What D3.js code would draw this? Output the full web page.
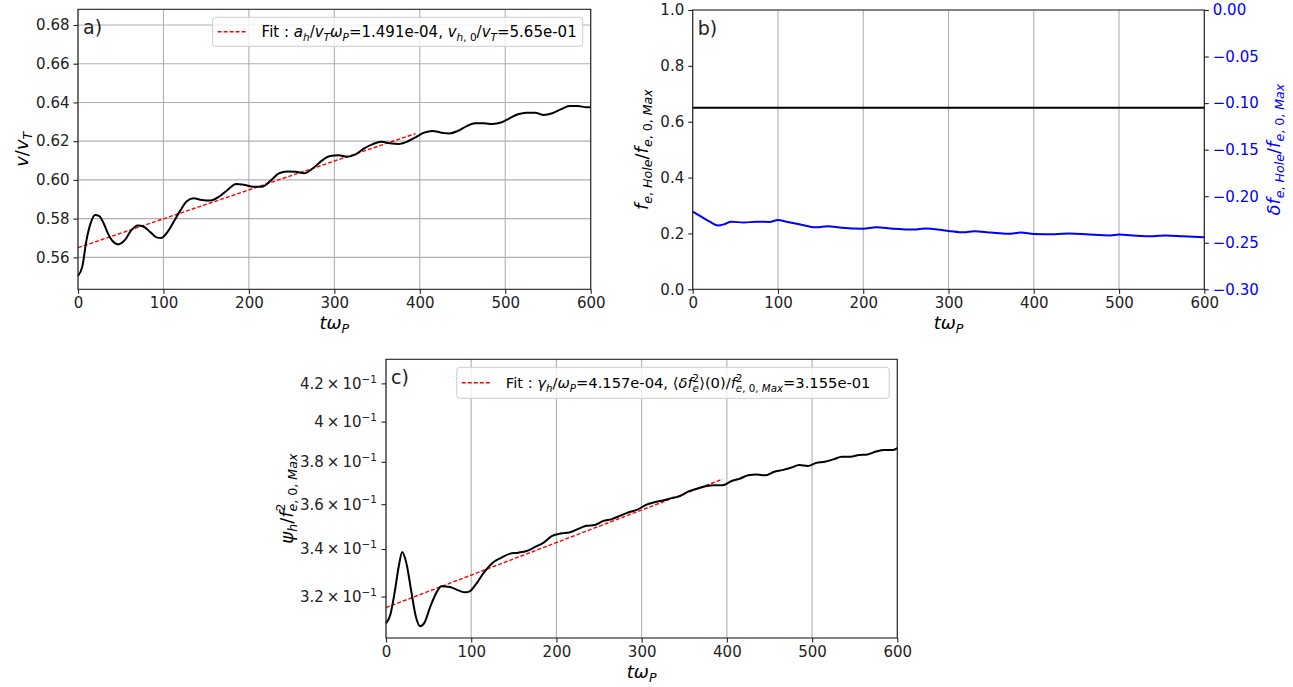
<!DOCTYPE html>
<html>
<head>
<meta charset="utf-8">
<script src="https://cdn.jsdelivr.net/npm/d3@7"></script>
<style>
  body { margin: 0; background: #fff; }
  svg text { font-family: "DejaVu Sans", sans-serif; }
</style>
</head>
<body>
<div id="chart"></div>
<script>
// ---- data ----
var xTicks = [0, 100, 200, 300, 400, 500, 600];

// a) hole velocity
var tA = [0, 5, 10, 15, 20, 25, 30, 35, 40, 47, 55, 62, 70, 77, 85, 92, 97, 105, 112, 120, 127, 135, 145, 155, 165, 175, 185, 195, 205, 215, 225, 235, 245, 255, 265, 275, 285, 295, 305, 315, 325, 335, 345, 355, 365, 375, 385, 395, 405, 415, 425, 435, 445, 455, 465, 475, 485, 495, 505, 515, 525, 535, 545, 555, 565, 575, 585, 595, 600];
var vA = [0.5504, 0.5552, 0.569, 0.5779, 0.5819, 0.5813, 0.5776, 0.5724, 0.5686, 0.5667, 0.569, 0.5738, 0.5765, 0.5758, 0.5729, 0.5703, 0.570, 0.5733, 0.5784, 0.5844, 0.5888, 0.5905, 0.5896, 0.5893, 0.5913, 0.5948, 0.5979, 0.5974, 0.5965, 0.5965, 0.5994, 0.6034, 0.6044, 0.6042, 0.6034, 0.606, 0.6098, 0.6123, 0.6127, 0.612, 0.6132, 0.6163, 0.6185, 0.6197, 0.6189, 0.6185, 0.6197, 0.622, 0.6244, 0.6253, 0.6244, 0.624, 0.6254, 0.6278, 0.6292, 0.6292, 0.6289, 0.6296, 0.6318, 0.6339, 0.6347, 0.6347, 0.6335, 0.6344, 0.6364, 0.6382, 0.6382, 0.6375, 0.6375];
var fitAt = [0, 395];
var fitAv = [0.565, 0.6239];
var yTicksA = [0.56, 0.58, 0.60, 0.62, 0.64, 0.66, 0.68];

// b) hole depth
var levelB = 0.65;
var tB = [0, 10, 20, 30, 38, 45, 60, 75, 90, 100, 110, 125, 145, 158, 175, 200, 215, 235, 260, 272, 300, 318, 330, 350, 370, 385, 400, 425, 442, 465, 490, 500, 520, 540, 555, 575, 600];
var dfB = [-0.2166, -0.222, -0.2274, -0.2316, -0.2298, -0.2274, -0.2283, -0.2274, -0.2277, -0.2256, -0.2274, -0.2301, -0.2334, -0.2322, -0.234, -0.2349, -0.2334, -0.2349, -0.2358, -0.2346, -0.2373, -0.2388, -0.2376, -0.2391, -0.2403, -0.2391, -0.2406, -0.2409, -0.24, -0.2412, -0.2421, -0.2412, -0.2424, -0.243, -0.2421, -0.243, -0.2442];
var yTicksB = [0, 0.2, 0.4, 0.6, 0.8, 1.0];
var yTicksB2 = [-0.30, -0.25, -0.20, -0.15, -0.10, -0.05, 0.00];

// c) hole potential (log axis)
var tC = [0, 5, 10, 15, 19, 24, 30, 35, 40, 45, 52, 60, 65, 75, 85, 93, 98, 105, 115, 125, 135, 145, 155, 165, 175, 185, 195, 205, 215, 225, 235, 245, 255, 265, 275, 285, 295, 305, 315, 325, 335, 345, 355, 365, 375, 385, 395, 405, 415, 425, 435, 445, 455, 465, 475, 485, 495, 505, 515, 525, 535, 545, 555, 565, 575, 585, 595, 600];
var psiC = [0.3092, 0.3125, 0.3214, 0.3326, 0.3387, 0.3338, 0.3214, 0.3119, 0.3081, 0.3094, 0.3159, 0.3221, 0.3242, 0.3239, 0.3225, 0.3217, 0.3221, 0.3248, 0.3300, 0.3340, 0.3362, 0.3379, 0.3384, 0.3391, 0.3409, 0.3428, 0.3457, 0.3468, 0.3472, 0.3487, 0.3502, 0.3506, 0.3524, 0.3532, 0.3548, 0.3563, 0.3575, 0.3597, 0.3609, 0.3617, 0.3628, 0.3637, 0.3659, 0.3672, 0.3683, 0.3688, 0.3688, 0.3707, 0.3719, 0.3735, 0.3739, 0.3735, 0.3751, 0.3760, 0.3771, 0.3784, 0.3780, 0.3795, 0.3800, 0.3812, 0.3825, 0.3825, 0.3833, 0.3836, 0.3850, 0.3858, 0.3858, 0.3867];
var fitCt = [0, 395];
var fitCv = [0.3155, 0.3717];
var yTicksC = [0.32, 0.34, 0.36, 0.38, 0.40, 0.42];
var yTickLabC = ['3.2', '3.4', '3.6', '3.8', '4', '4.2'];

// ---- setup ----
var W = 1293, H = 687;
var FONT = 15;
var svg = d3.select('#chart').append('svg')
    .attr('width', W).attr('height', H);
svg.append('rect').attr('width', W).attr('height', H).attr('fill', '#fff');

var minus = function(s) { return s.replace('-', '\u2212'); };

// mathtext-ish rich text: segs = [[text, flags]], i italic, _ sub, ^ sup, k stack on previous
function rich(g, segs, size) {
    var txt = g.append('text').attr('font-size', size);
    var cur = 0, prev = null;
    segs.forEach(function(s) {
        var f = s[1] || '';
        var small = f.indexOf('_') >= 0 || f.indexOf('^') >= 0;
        var off = f.indexOf('_') >= 0 ? 0.22 * size : (f.indexOf('^') >= 0 ? -0.42 * size : 0);
        var ts = txt.append('tspan').text(s[0])
            .attr('font-size', small ? size * 0.7 : size)
            .attr('dy', off - cur)
            .attr('font-style', f.indexOf('i') >= 0 ? 'italic' : 'normal');
        if (f.indexOf('k') >= 0 && prev) ts.attr('dx', -prev.node().getComputedTextLength());
        cur = off;
        prev = ts;
    });
    return txt;
}

function frame(p) {
    p.g.append('rect')
        .attr('x', p.x0).attr('y', p.y0)
        .attr('width', p.x1 - p.x0).attr('height', p.y1 - p.y0)
        .attr('fill', 'none').attr('stroke', '#222').attr('stroke-width', 1.1);
}

function styleAxis(sel, color) {
    sel.select('.domain').remove();
    sel.selectAll('.tick line').attr('stroke', '#222').attr('stroke-width', 1.1);
    sel.selectAll('.tick text')
        .attr('font-size', FONT)
        .attr('fill', color || '#222')
        .attr('font-family', '"DejaVu Sans", sans-serif');
}

function makePanel(x0, x1, y0, y1) {
    return { x0: x0, x1: x1, y0: y0, y1: y1, g: svg.append('g'),
        x: d3.scaleLinear().domain([0, 600]).range([x0, x1]) };
}

function xAxis(p, gridX) {
    if (gridX) {
        p.g.append('g').selectAll('line').data(xTicks).enter().append('line')
            .attr('x1', function(d){ return p.x(d); }).attr('x2', function(d){ return p.x(d); })
            .attr('y1', p.y0).attr('y2', p.y1)
            .attr('stroke', '#b0b0b0').attr('stroke-width', 1.1);
    }
    var ax = p.g.append('g')
        .attr('transform', 'translate(0,' + p.y1 + ')')
        .call(d3.axisBottom(p.x).tickValues(xTicks).tickSize(4.5).tickPadding(4).tickFormat(d3.format('d')));
    styleAxis(ax);
    rich(p.g, [['t', 'i'], ['ω', 'i'], ['P', 'i_']], 18)
        .attr('x', (p.x0 + p.x1) / 2).attr('y', p.y1 + 40).attr('text-anchor', 'middle');
}

function legend(p, segs, right, top, h, size) {
    var lg = p.g.append('g');
    var box = lg.append('rect').attr('rx', 3).attr('ry', 3)
        .attr('fill', 'rgba(255,255,255,0.8)').attr('stroke', '#cccccc').attr('stroke-width', 1);
    var t = rich(lg, segs, size);
    var tw = t.node().getComputedTextLength();
    var left = right - (tw + 49 + 6);
    box.attr('x', left).attr('y', top).attr('width', right - left).attr('height', h);
    t.attr('x', left + 49).attr('y', top + h / 2 + 5.5);
    lg.append('line')
        .attr('x1', left + 5).attr('x2', left + 35)
        .attr('y1', top + h / 2).attr('y2', top + h / 2)
        .attr('stroke', '#ff0000').attr('stroke-width', 1.4).attr('stroke-dasharray', '4,2');
}

function panelLetter(p, s) {
    p.g.append('text').text(s).attr('x', p.x0 + 5).attr('y', p.y0 + 25)
        .attr('font-size', 19).attr('fill', '#222');
}

// ---- panel a ----
var A = makePanel(78, 590.7, 9.3, 289.3);
var yA = d3.scaleLinear().domain([0.5435, 0.6881]).range([A.y1, A.y0]);
A.g.append('g').selectAll('line').data(yTicksA).enter().append('line')
    .attr('x1', A.x0).attr('x2', A.x1)
    .attr('y1', function(d){ return yA(d); }).attr('y2', function(d){ return yA(d); })
    .attr('stroke', '#b0b0b0').attr('stroke-width', 1.1);
xAxis(A, true);
styleAxis(A.g.append('g').attr('transform', 'translate(' + A.x0 + ',0)')
    .call(d3.axisLeft(yA).tickValues(yTicksA).tickSize(4.5).tickPadding(4).tickFormat(d3.format('.2f'))));
rich(A.g, [['v', 'i'], ['/', ''], ['v', 'i'], ['T', 'i_']], 18)
    .attr('transform', 'translate(' + (A.x0 - 50) + ',' + ((A.y0 + A.y1) / 2) + ') rotate(-90)')
    .attr('text-anchor', 'middle');

var lineA = d3.line().curve(d3.curveMonotoneX)
    .x(function(d){ return A.x(d[0]); }).y(function(d){ return yA(d[1]); });
A.g.append('path').datum(d3.zip(fitAt, fitAv))
    .attr('fill', 'none').attr('stroke', '#ff0000').attr('stroke-width', 1.4)
    .attr('stroke-dasharray', '4,2').attr('d', lineA);
A.g.append('path').datum(d3.zip(tA, vA))
    .attr('fill', 'none').attr('stroke', '#000').attr('stroke-width', 2).attr('d', lineA);
frame(A);
panelLetter(A, 'a)');
legend(A, [['Fit : ', ''], ['a', 'i'], ['h', 'i_'], ['/', ''], ['v', 'i'], ['T', 'i_'], ['ω', 'i'], ['P', 'i_'],
    ['=1.491e-04, ', ''], ['v', 'i'], ['h', 'i_'], [', 0', '_'], ['/', ''], ['v', 'i'], ['T', 'i_'], ['=5.65e-01', '']],
    A.x1 - 8, A.y0 + 8, 29, 15);

// ---- panel b ----
var B = makePanel(692.7, 1204.3, 10, 289.3);
var yB = d3.scaleLinear().domain([0, 1]).range([B.y1, B.y0]);
var yB2 = d3.scaleLinear().domain([-0.3, 0]).range([B.y1, B.y0]);
xAxis(B, true);
styleAxis(B.g.append('g').attr('transform', 'translate(' + B.x0 + ',0)')
    .call(d3.axisLeft(yB).tickValues(yTicksB).tickSize(4.5).tickPadding(4).tickFormat(d3.format('.1f'))));
styleAxis(B.g.append('g').attr('transform', 'translate(' + B.x1 + ',0)')
    .call(d3.axisRight(yB2).tickValues(yTicksB2).tickSize(4.5).tickPadding(4)
        .tickFormat(function(d){ return minus(d3.format('.2f')(d)); })), '#0000ff');
var seg = [['f', 'i'], ['e', 'i_'], [', ', '_'], ['Hole', 'i_'], ['/', ''], ['f', 'i'], ['e', 'i_'], [', 0, ', '_'], ['Max', 'i_']];
rich(B.g, seg, 18)
    .attr('transform', 'translate(' + (B.x0 - 45) + ',' + ((B.y0 + B.y1) / 2) + ') rotate(-90)')
    .attr('text-anchor', 'middle');
rich(B.g, [['δ', 'i']].concat(seg), 18)
    .attr('fill', '#0000ff')
    .attr('transform', 'translate(' + (B.x1 + 76) + ',' + ((B.y0 + B.y1) / 2) + ') rotate(-90)')
    .attr('text-anchor', 'middle');

var lineB = d3.line()
    .x(function(d){ return B.x(d[0]); }).y(function(d){ return yB(d[1]); });
B.g.append('path').datum([[0, levelB], [600, levelB]])
    .attr('fill', 'none').attr('stroke', '#000').attr('stroke-width', 2).attr('d', lineB);
var lineB2 = d3.line().curve(d3.curveMonotoneX)
    .x(function(d){ return B.x(d[0]); }).y(function(d){ return yB2(d[1]); });
B.g.append('path').datum(d3.zip(tB, dfB))
    .attr('fill', 'none').attr('stroke', '#0000ff').attr('stroke-width', 2).attr('d', lineB2);
frame(B);
panelLetter(B, 'b)');

// ---- panel c ----
var C = makePanel(386, 897.3, 359.3, 638);
var yC = d3.scaleLog().domain([0.3035, 0.4331]).range([C.y1, C.y0]);
xAxis(C, true);
var axC = C.g.append('g').attr('transform', 'translate(' + C.x0 + ',0)')
    .call(d3.axisLeft(yC).tickValues(yTicksC).tickSize(4.5).tickPadding(4).tickFormat(''));
styleAxis(axC);
axC.selectAll('.tick').each(function(d, i) {
    rich(d3.select(this), [[yTickLabC[i] + '\u2009×\u200910', ''], ['\u22121', '^']], FONT)
        .attr('x', -9).attr('y', 5).attr('text-anchor', 'end').attr('fill', '#222');
});
rich(C.g, [['ψ', 'i'], ['h', 'i_'], ['/', ''], ['f', 'i'], ['2', '^'], ['e', 'i_k'], [', 0, ', '_'], ['Max', 'i_']], 18)
    .attr('transform', 'translate(' + (C.x0 - 93) + ',' + ((C.y0 + C.y1) / 2) + ') rotate(-90)')
    .attr('text-anchor', 'middle');

var lineC = d3.line().curve(d3.curveMonotoneX)
    .x(function(d){ return C.x(d[0]); }).y(function(d){ return yC(d[1]); });
C.g.append('path').datum(d3.zip(fitCt, fitCv))
    .attr('fill', 'none').attr('stroke', '#ff0000').attr('stroke-width', 1.4)
    .attr('stroke-dasharray', '4,2').attr('d', lineC);
C.g.append('path').datum(d3.zip(tC, psiC))
    .attr('fill', 'none').attr('stroke', '#000').attr('stroke-width', 2).attr('d', lineC);
frame(C);
panelLetter(C, 'c)');
legend(C, [['Fit : ', ''], ['γ', 'i'], ['h', 'i_'], ['/', ''], ['ω', 'i'], ['P', 'i_'], ['=4.157e-04, ', ''],
    ['⟨', ''], ['δ', 'i'], ['f', 'i'], ['e', 'i_'], ['2', '^k'], ['⟩(0)/', ''], ['f', 'i'], ['2', '^'],
    ['e', 'i_k'], [', 0, ', '_'], ['Max', 'i_'], ['=3.155e-01', '']],
    C.x1 - 8, C.y0 + 8, 31, 14.7);
</script>
</body>
</html>
